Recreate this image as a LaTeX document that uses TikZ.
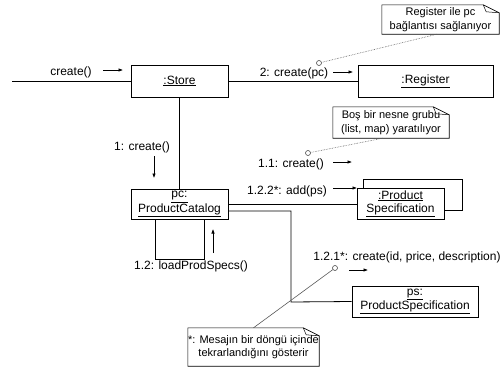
\documentclass[tikz,border=0pt]{standalone}
\usepackage{fontspec}
\setmainfont{Liberation Sans}
\usetikzlibrary{arrows.meta}

\tikzset{
  obj/.style={draw, line width=0.9pt, fill=white, inner sep=0pt, align=center,
    font=\fontsize{12}{13}\selectfont},
  lbl/.style={inner sep=0pt, font=\fontsize{12}{13}\selectfont},
  msg/.style={-{Latex[length=4.5pt,width=3.5pt]}, line width=0.6pt},
  link/.style={line width=0.8pt},
  notetext/.style={inner sep=0pt, align=center, font=\fontsize{11}{13.5}\selectfont},
  hook/.style={circle, draw=gray!60!black, fill=white, inner sep=0pt, minimum size=5pt, line width=0.6pt},
}

% note outline with folded corner around a node
\newcommand{\dogear}[1]{%
  \draw[line width=0.6pt] (#1.north west) -- ([xshift=-16pt]#1.north east)
    -- ([yshift=-8pt]#1.north east) -- (#1.south east) -- (#1.south west) -- cycle;
  \draw[line width=0.5pt] ([xshift=-16pt]#1.north east)
    -- ([xshift=-13pt,yshift=-7pt]#1.north east) -- ([yshift=-8pt]#1.north east);}

\begin{document}
\begin{tikzpicture}[x=1pt, y=-1pt]
  \useasboundingbox (0,0) rectangle (504,367);

  % Objects
  \node[obj, minimum width=97pt, minimum height=32pt] (store) at (179.5,81) {\underline{:Store}};
  \node[obj, minimum width=135pt, minimum height=32pt] (register) at (425.5,81) {\underline{:Register}};
  \node[obj, minimum width=97pt, minimum height=30pt] (catalog) at (179.5,204)
    {\underline{pc:}\\\underline{ProductCatalog}};
  \node[obj, minimum width=99pt, minimum height=31pt] (specsback) at (412.5,194.5) {};
  \node[obj, minimum width=87pt, minimum height=31pt] (specs) at (400.5,203.5)
    {\underline{:Product}\\\underline{Specification}};
  \node[obj, minimum width=126pt, minimum height=31pt] (ps) at (415,301.5)
    {\underline{ps:}\\\underline{ProductSpecification}};

  % Links
  \coordinate (actor) at (12,81);
  \coordinate (bend) at (291,302);
  \draw[link] (actor) -- (store);
  \draw[link] (store) -- (register);
  \draw[link] (store.south) -- (catalog.north);
  \draw[link] (catalog.east) -- (catalog.east -| specs.west);
  \draw[link] ([yshift=-7pt]catalog.east) -| (bend) -- (ps.west);
  \draw[link] ([xshift=-24.5pt]catalog.south) -- ++(0,40) -| ([xshift=24.5pt]catalog.south);

  % Messages
  \node[lbl] (m0) at (71,72) {create()};
  \draw[msg] (103,70) -- (123,70);
  \node[lbl] (m2) at (294,73) {2: create(pc)};
  \draw[msg] (333,72) -- (353,72);
  \node[lbl] (m1) at (142,147) {1: create()};
  \draw[msg] (154,156) -- (154,178);
  \node[lbl] (m11) at (291,164) {1.1: create()};
  \draw[msg] (333,162) -- (352,162);
  \node[lbl] (m122) at (287,191) {1.2.2*: add(ps)};
  \draw[msg] (333,188) -- (357,188);
  \node[lbl] (m12) at (191,266) {1.2: loadProdSpecs()};
  \draw[msg] (213,253) -- (213,229);
  \node[lbl] (m121) at (407,257) {1.2.1*: create(id, price, description)};
  \draw[msg] (349,270) -- (368,270);

  % Notes
  \node[notetext, minimum width=117pt, minimum height=29pt] (note1) at (440.5,19.5)
    {Register ile pc\\bağlantısı sağlanıyor};
  \node[notetext, minimum width=116pt, minimum height=31pt] (note2) at (391,122.5)
    {Boş bir nesne grubu\\(list, map) yaratılıyor};
  \node[notetext, minimum width=131pt, minimum height=38pt] (note3) at (253.5,347)
    {*: Mesajın bir döngü içinde\\tekrarlandığını gösterir};
  \dogear{note1}
  \dogear{note2}
  \dogear{note3}

  \node[hook] (h1) at (319,63) {};
  \node[hook] (h2) at (308,153) {};
  \node[hook] (h3) at (335,268) {};
  \draw[gray!70!black, densely dotted, line width=0.6pt] ([xshift=-3.5pt]note1.south) -- (h1);
  \draw[gray!70!black, densely dotted, line width=0.6pt] ([xshift=-8pt]note2.south) -- (h2);
  \draw[gray!70!black, line width=0.6pt] (note3.north) -- (h3);
\end{tikzpicture}
\end{document}
